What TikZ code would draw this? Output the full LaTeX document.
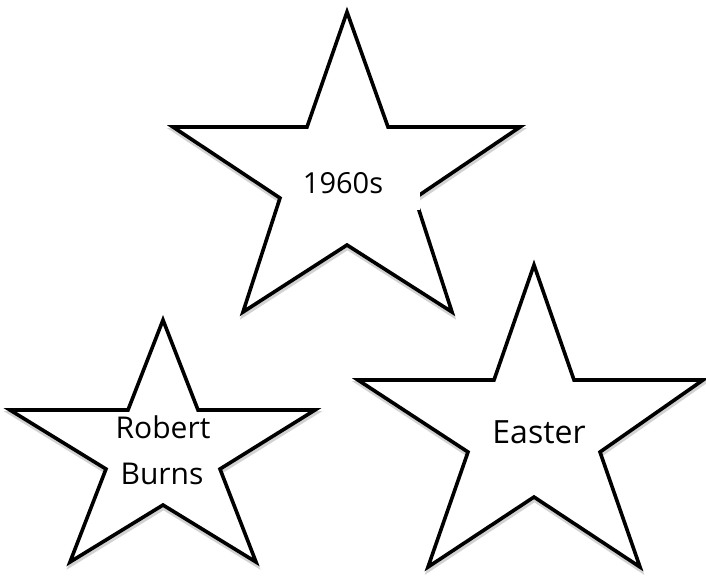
\documentclass[tikz,border=0pt]{standalone}
\usepackage{fontspec}
\setmainfont{Open Sans}
\usepackage{tikz}

\begin{document}
\begin{tikzpicture}[x=1pt, y=-1pt, line join=miter,
        starline/.style={line width=3.6pt, black},
        starshadow/.style={line width=4pt, gray!35, shift={(0.5,3)}},
        bigtext/.style={anchor=base, font=\fontsize{32}{38}\selectfont},
        smalltext/.style={anchor=base, font=\fontsize{30}{36}\selectfont}]
            \useasboundingbox (0,0) rectangle (706,576);

            % Draw the shadows first, so the outlines sit on top of them
            \draw[starshadow] (347,12) -- (388,127) -- (520,127) -- (415,198) -- (452,312)
                -- (347,245) -- (243,312) -- (280,198) -- (173,127) -- (307,127) -- cycle;
            \draw[starshadow] (163,320) -- (198,410) -- (315,410) -- (220,469) -- (256,562)
                -- (163,505) -- (70,562) -- (106,469) -- (10,410) -- (128,410) -- cycle;
            \draw[starshadow] (534,265) -- (574,380) -- (703,380) -- (600,452) -- (640,567)
                -- (534,497) -- (428,567) -- (468,452) -- (358,380) -- (494,380) -- cycle;

            % Draw the top star
            \draw[starline, fill=white] (347,12) -- (388,127) -- (520,127) -- (415,198) -- (452,312)
                -- (347,245) -- (243,312) -- (280,198) -- (173,127) -- (307,127) -- cycle;

            % the little white patch that cuts the right edge of the top star
            \fill[white] (395,189) rectangle (420,210);

            % Draw the bottom left star
            \draw[starline, fill=white] (163,320) -- (198,410) -- (315,410) -- (220,469) -- (256,562)
                -- (163,505) -- (70,562) -- (106,469) -- (10,410) -- (128,410) -- cycle;

            % Draw the bottom right star
            \draw[starline, fill=white] (534,265) -- (574,380) -- (703,380) -- (600,452) -- (640,567)
                -- (534,497) -- (428,567) -- (468,452) -- (358,380) -- (494,380) -- cycle;

            % Put in the words for each star
            \node[bigtext, font=\fontsize{29}{34}\selectfont] (sixties) at (343,193) {1960s};
            \node[smalltext] (robert) at (163,438) {Robert};
            \node[smalltext] (burns) at (162,484) {Burns};
            \node[bigtext] (easter) at (539,443) {Easter};
        \end{tikzpicture}
\end{document}
